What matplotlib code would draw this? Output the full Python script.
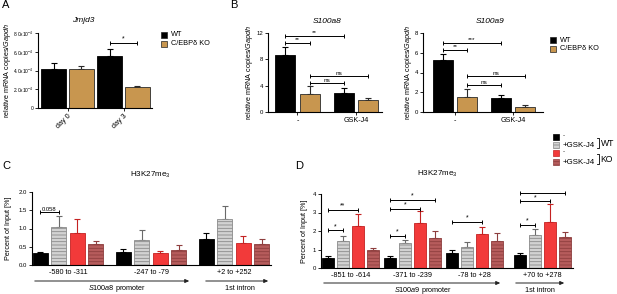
import matplotlib
matplotlib.use('Agg')
import matplotlib.pyplot as plt
import numpy as np
from matplotlib.patches import Rectangle
from matplotlib.lines import Line2D

plt.rcParams['font.family'] = ['Liberation Sans', 'DejaVu Sans']
plt.rcParams['hatch.linewidth'] = 0.6
plt.rcParams['axes.linewidth'] = 0.8
plt.rcParams['mathtext.fontset'] = 'custom'
plt.rcParams['mathtext.rm'] = 'Liberation Sans'
plt.rcParams['mathtext.it'] = 'Liberation Sans:italic'

# ---------------- data ----------------
# Panel A
a_groups = ['day 0', 'day 3']
a_wt = [4.2e-4, 5.6e-4]
a_wt_err = [0.6e-4, 0.7e-4]
a_ko = [4.2e-4, 2.2e-4]
a_ko_err = [0.3e-4, 0.1e-4]
a_yticks = [0, 2e-4, 4e-4, 6e-4, 8e-4]
a_yticklabels = ['0', r'2.0x10$^{-4}$', r'4.0x10$^{-4}$', r'6.0x10$^{-4}$', r'8.0x10$^{-4}$']
a_sig = [(1, 6.93e-4, '*')]

# Panel B
b_groups = ['-', 'GSK-J4']
b8_wt = [8.64, 2.85]
b8_wt_err = [1.29, 0.72]
b8_ko = [2.69, 1.76]
b8_ko_err = [1.19, 0.31]
b8_yticks = [0, 4, 8, 12]
b8_sig = [(0, 1, 10.55, '**'), (0, 2, 11.6, '**'), (1, 2, 4.35, 'ns'), (1, 3, 5.43, 'ns')]

b9_wt = [5.27, 1.40]
b9_wt_err = [0.63, 0.30]
b9_ko = [1.55, 0.50]
b9_ko_err = [0.75, 0.20]
b9_yticks = [0, 2, 4, 6, 8]
b9_sig = [(0, 1, 6.3, '**'), (0, 2, 7.0, '***'), (1, 2, 2.7, 'ns'), (1, 3, 3.6, 'ns')]

# Panel C
c_groups = ['-580 to -311', '-247 to -79', '+2 to +252']
c_wt = [0.33, 0.36, 0.71]
c_wt_err = [0.03, 0.07, 0.17]
c_wt_gsk = [1.05, 0.68, 1.25]
c_wt_gsk_err = [0.28, 0.28, 0.36]
c_ko = [0.87, 0.33, 0.60]
c_ko_err = [0.40, 0.04, 0.19]
c_ko_gsk = [0.58, 0.42, 0.57]
c_ko_gsk_err = [0.09, 0.14, 0.14]
c_yticks = [0.0, 0.5, 1.0, 1.5, 2.0]
c_yticklabels = ['0.0', '0.5', '1.0', '1.5', '2.0']
c_sig = [(0, 1, 1.45, '0.058')]

# Panel D
d_groups = ['-851 to -614', '-371 to -239', '-78 to +28', '+70 to +278']
d_wt = [0.52, 0.56, 0.80, 0.70]
d_wt_err = [0.13, 0.09, 0.18, 0.13]
d_wt_gsk = [1.45, 1.34, 1.14, 1.81]
d_wt_gsk_err = [0.29, 0.18, 0.24, 0.31]
d_ko = [2.26, 2.41, 1.85, 2.48]
d_ko_err = [0.65, 0.65, 0.39, 0.96]
d_ko_gsk = [0.98, 1.61, 1.45, 1.68]
d_ko_gsk_err = [0.11, 0.39, 0.43, 0.27]
d_yticks = [0, 1, 2, 3, 4]
d_sig = [(0, 1, 2.03, '*'), (0, 2, 3.15, '**'),
         (1, 1, 1.74, '*'), (1, 2, 3.2, '*'), (1, 3, 3.69, '*'),
         (2, 2, 2.48, '*'),
         (3, 1, 2.32, '*'), (3, 2, 3.6, '*'), (3, 3, 4.05, '**')]

# ---------------- styles ----------------
BLACK = '#000000'
TAN = '#c8964f'
styles4 = [
    dict(color='#000000', edgecolor='#000000', hatch=None, ecolor='#000000'),
    dict(color='#d2d2d2', edgecolor='#8a8a8a', hatch='-----', ecolor='#6a6a6a'),
    dict(color='#f23a3a', edgecolor='#c42222', hatch=None, ecolor='#c42222'),
    dict(color='#b65c5c', edgecolor='#8e3e3e', hatch='-----', ecolor='#8e3e3e'),
]

W, H = 617, 294
fig = plt.figure(figsize=(W / 100, H / 100), dpi=100)


def ax_px(x0, x1, ytop, ybot):
    return fig.add_axes([x0 / W, 1 - ybot / H, (x1 - x0) / W, (ybot - ytop) / H])


TICK_FS = 4.3
LAB_FS = 5.2


def style_axes(ax):
    for s in ['top', 'right']:
        ax.spines[s].set_visible(False)
    ax.tick_params(axis='y', length=2, width=0.6, pad=1.5, labelsize=TICK_FS)
    ax.tick_params(axis='x', length=2, width=0.6, pad=1.5, labelsize=LAB_FS)


def draw_bar(ax, x, h, err, width, st):
    ax.bar(x, h, width, color=st['color'], edgecolor=st['edgecolor'], hatch=st['hatch'],
           linewidth=0.6, zorder=2)
    ax.errorbar(x, h, yerr=[np.zeros_like(np.asarray(err)), err], fmt='none',
                ecolor=st['ecolor'], elinewidth=0.8, capsize=2.2, capthick=0.8, zorder=1)


def sig(ax, x1, x2, y, label, fs=5.0):
    ax.plot([x1, x2], [y, y], color='black', lw=0.7, clip_on=False, zorder=3)
    ax.plot([x1, x2], [y, y], ls='none', marker='|', ms=2.6, mew=0.7, color='black',
            clip_on=False, zorder=3)
    ax.annotate(label, xy=((x1 + x2) / 2, y), xytext=(0, 0.3), textcoords='offset points',
                ha='center', va='bottom', fontsize=fs, clip_on=False)


# ---------------- Panel A ----------------
axA = ax_px(38, 152, 33, 108)
style_axes(axA)
xa = np.arange(len(a_groups))
offA, wA = 0.245, 0.44
draw_bar(axA, xa - offA, a_wt, a_wt_err, wA, dict(color=BLACK, edgecolor=BLACK, hatch=None, ecolor=BLACK))
draw_bar(axA, xa + offA, a_ko, a_ko_err, wA, dict(color=TAN, edgecolor='#2a2a2a', hatch=None, ecolor='#2a2a2a'))
axA.set_xlim(-0.527, 1.509)
axA.set_ylim(0, 8e-4)
axA.set_yticks(a_yticks)
axA.set_yticklabels(a_yticklabels)
axA.tick_params(axis='y', labelsize=3.5, pad=1)
axA.set_xticks(xa)
axA.set_xticklabels(a_groups, rotation=45, ha='right', rotation_mode='anchor', fontsize=LAB_FS)
axA.set_ylabel(r'relative mRNA copies/$\it{Gapdh}$', fontsize=LAB_FS)
axA.yaxis.set_label_coords(-0.215, 0.5)
axA.text(0.395, 1.17, 'Jmjd3', transform=axA.transAxes, ha='center', va='center',
         fontsize=6, style='italic')
for g, y, lab in a_sig:
    sig(axA, xa[g] - offA, xa[g] + offA, y, lab)

# ---------------- Panel B ----------------
def panel_b(x0, x1, wt, wt_err, ko, ko_err, yticks, sigs, title, title_x, xlim, ylab_x):
    ax = ax_px(x0, x1, 33, 112)
    style_axes(ax)
    xb = np.arange(len(b_groups))
    off, w = 0.21, 0.345
    draw_bar(ax, xb - off, wt, wt_err, w, dict(color=BLACK, edgecolor=BLACK, hatch=None, ecolor=BLACK))
    draw_bar(ax, xb + off, ko, ko_err, w, dict(color=TAN, edgecolor='#2a2a2a', hatch=None, ecolor='#2a2a2a'))
    ax.set_xlim(*xlim)
    ax.set_ylim(yticks[0], yticks[-1])
    ax.set_yticks(yticks)
    ax.set_xticks(xb)
    ax.set_xticklabels(b_groups, fontsize=LAB_FS)
    ax.set_ylabel(r'relative mRNA copies/$\it{Gapdh}$', fontsize=LAB_FS)
    ax.yaxis.set_label_coords(ylab_x, 0.5)
    ax.text(title_x, 1.14, title, transform=ax.transAxes, ha='center', va='center',
            fontsize=6, style='italic')
    pos = [xb[0] - off, xb[0] + off, xb[1] - off, xb[1] + off]
    for i, j, y, lab in sigs:
        sig(ax, pos[i], pos[j], y, lab, fs=4.6)
    return ax


axB1 = panel_b(268, 382, b8_wt, b8_wt_err, b8_ko, b8_ko_err, b8_yticks, b8_sig, 'S100a8', 0.52,
               (-0.504, 1.444), -0.11)
axB2 = panel_b(423, 543, b9_wt, b9_wt_err, b9_ko, b9_ko_err, b9_yticks, b9_sig, 'S100a9', 0.56,
               (-0.552, 1.517), -0.072)

# ---------------- Panel C / D ----------------
def panel_cd(ax, positions, series, errs, yticks, groups, sigs, bar_off, bar_w, xlim):
    style_axes(ax)
    pos = np.asarray(positions, dtype=float)
    for k in range(4):
        draw_bar(ax, pos + (k - 1.5) * bar_off, series[k], errs[k], bar_w, styles4[k])
    ax.set_xlim(*xlim)
    ax.set_ylim(yticks[0], yticks[-1])
    ax.set_yticks(yticks)
    ax.set_xticks(pos)
    ax.set_xticklabels(groups, fontsize=LAB_FS)
    ax.tick_params(axis='x', length=0, pad=3)
    ax.set_ylabel('Percent of Input [%]', fontsize=LAB_FS)
    for g, j, y, lab in sigs:
        sig(ax, pos[g] - 1.5 * bar_off, pos[g] + (j - 1.5) * bar_off, y, lab,
            fs=4.2 if len(lab) > 2 else 5.0)
    return pos


axC = ax_px(32, 271, 192, 265)
posC = panel_cd(axC, np.arange(len(c_groups)), [c_wt, c_wt_gsk, c_ko, c_ko_gsk],
                [c_wt_err, c_wt_gsk_err, c_ko_err, c_ko_gsk_err], c_yticks, c_groups, c_sig,
                0.223, 0.18, (-0.434, 2.446))
axC.set_yticklabels(c_yticklabels)
axC.yaxis.set_label_coords(-0.085, 0.5)
axC.text(0.494, 1.233, r'H3K27me$_3$', transform=axC.transAxes, ha='center', va='center', fontsize=5.8)

axD = ax_px(321, 573, 194, 268)
posD = panel_cd(axD, [0, 1, 2, 3.1], [d_wt, d_wt_gsk, d_ko, d_ko_gsk],
                [d_wt_err, d_wt_gsk_err, d_ko_err, d_ko_gsk_err], d_yticks, d_groups, d_sig,
                0.242, 0.2, (-0.476, 3.589))
axD.yaxis.set_label_coords(-0.05, 0.5)
axD.text(0.46, 1.27, r'H3K27me$_3$', transform=axD.transAxes, ha='center', va='center', fontsize=5.8)


# region arrows under C / D (figure pixel coords)
def region_arrow(x0, x1, y, label, ty, tx):
    fig.add_artist(matplotlib.patches.FancyArrowPatch(
        (x0 / W, 1 - y / H), (x1 / W, 1 - y / H), transform=fig.transFigure,
        arrowstyle='-|>,head_length=2.4,head_width=1.1', lw=0.7, color='#222222',
        mutation_scale=1))
    fig.text(tx / W, 1 - ty / H, label, ha='center', va='center', fontsize=LAB_FS)


region_arrow(32, 192, 281, r'$\it{S100a8}$ promoter', 288, 117)
region_arrow(203, 271, 281, '1st intron', 288, 240)
region_arrow(321, 503, 283, r'$\it{S100a9}$ promoter', 290, 423)
region_arrow(513, 567, 283, '1st intron', 290, 540)

# ---------------- legends ----------------
def square(x, y, color, ec='#222222', hatch=None, size=6):
    fig.add_artist(Rectangle(((x) / W, 1 - (y + size / 2) / H), size / W, size / H,
                             transform=fig.transFigure, facecolor=color, edgecolor=ec,
                             hatch=hatch, linewidth=0.5))


LEG_FS = 5.3
square(161, 35, BLACK)
fig.text(171 / W, 1 - 35 / H, 'WT', va='center', fontsize=LEG_FS)
square(161, 44, TAN)
fig.text(171 / W, 1 - 44 / H, 'C/EBPδ KO', va='center', fontsize=LEG_FS)

square(550, 40, BLACK)
fig.text(560 / W, 1 - 40 / H, 'WT', va='center', fontsize=LEG_FS)
square(550, 49, TAN)
fig.text(560 / W, 1 - 49 / H, 'C/EBPδ KO', va='center', fontsize=LEG_FS)

leg_y = [137, 145, 153, 162]
for k, y in enumerate(leg_y):
    st = styles4[k]
    square(553, y, st['color'], ec=st['edgecolor'], hatch=st['hatch'])
    if k % 2 == 0:
        fig.text(563 / W, 1 - (y - 1.5) / H, '-', va='center', fontsize=4.5)
    else:
        fig.text(563 / W, 1 - (y + 0.5) / H, '+GSK-J4', va='center', fontsize=5.7)


def bracket(x, y0, y1, label):
    fx = [(x - 2) / W, x / W, x / W, (x - 2) / W]
    fy = [1 - y0 / H, 1 - y0 / H, 1 - y1 / H, 1 - y1 / H]
    fig.add_artist(Line2D(fx, fy, transform=fig.transFigure, color='black', lw=0.6))
    fig.text((x + 1.5) / W, 1 - ((y0 + y1) / 2) / H, label, va='center', fontsize=6.2)


bracket(599, 138, 148, 'WT')
bracket(599, 154, 164, 'KO')

# panel letters
for lab, x, y in [('A', 2, 5), ('B', 230, 5), ('C', 2, 166), ('D', 295, 166)]:
    fig.text(x / W, 1 - y / H, lab, fontsize=8, va='center', ha='left')

fig.savefig('out.png', dpi=100)
